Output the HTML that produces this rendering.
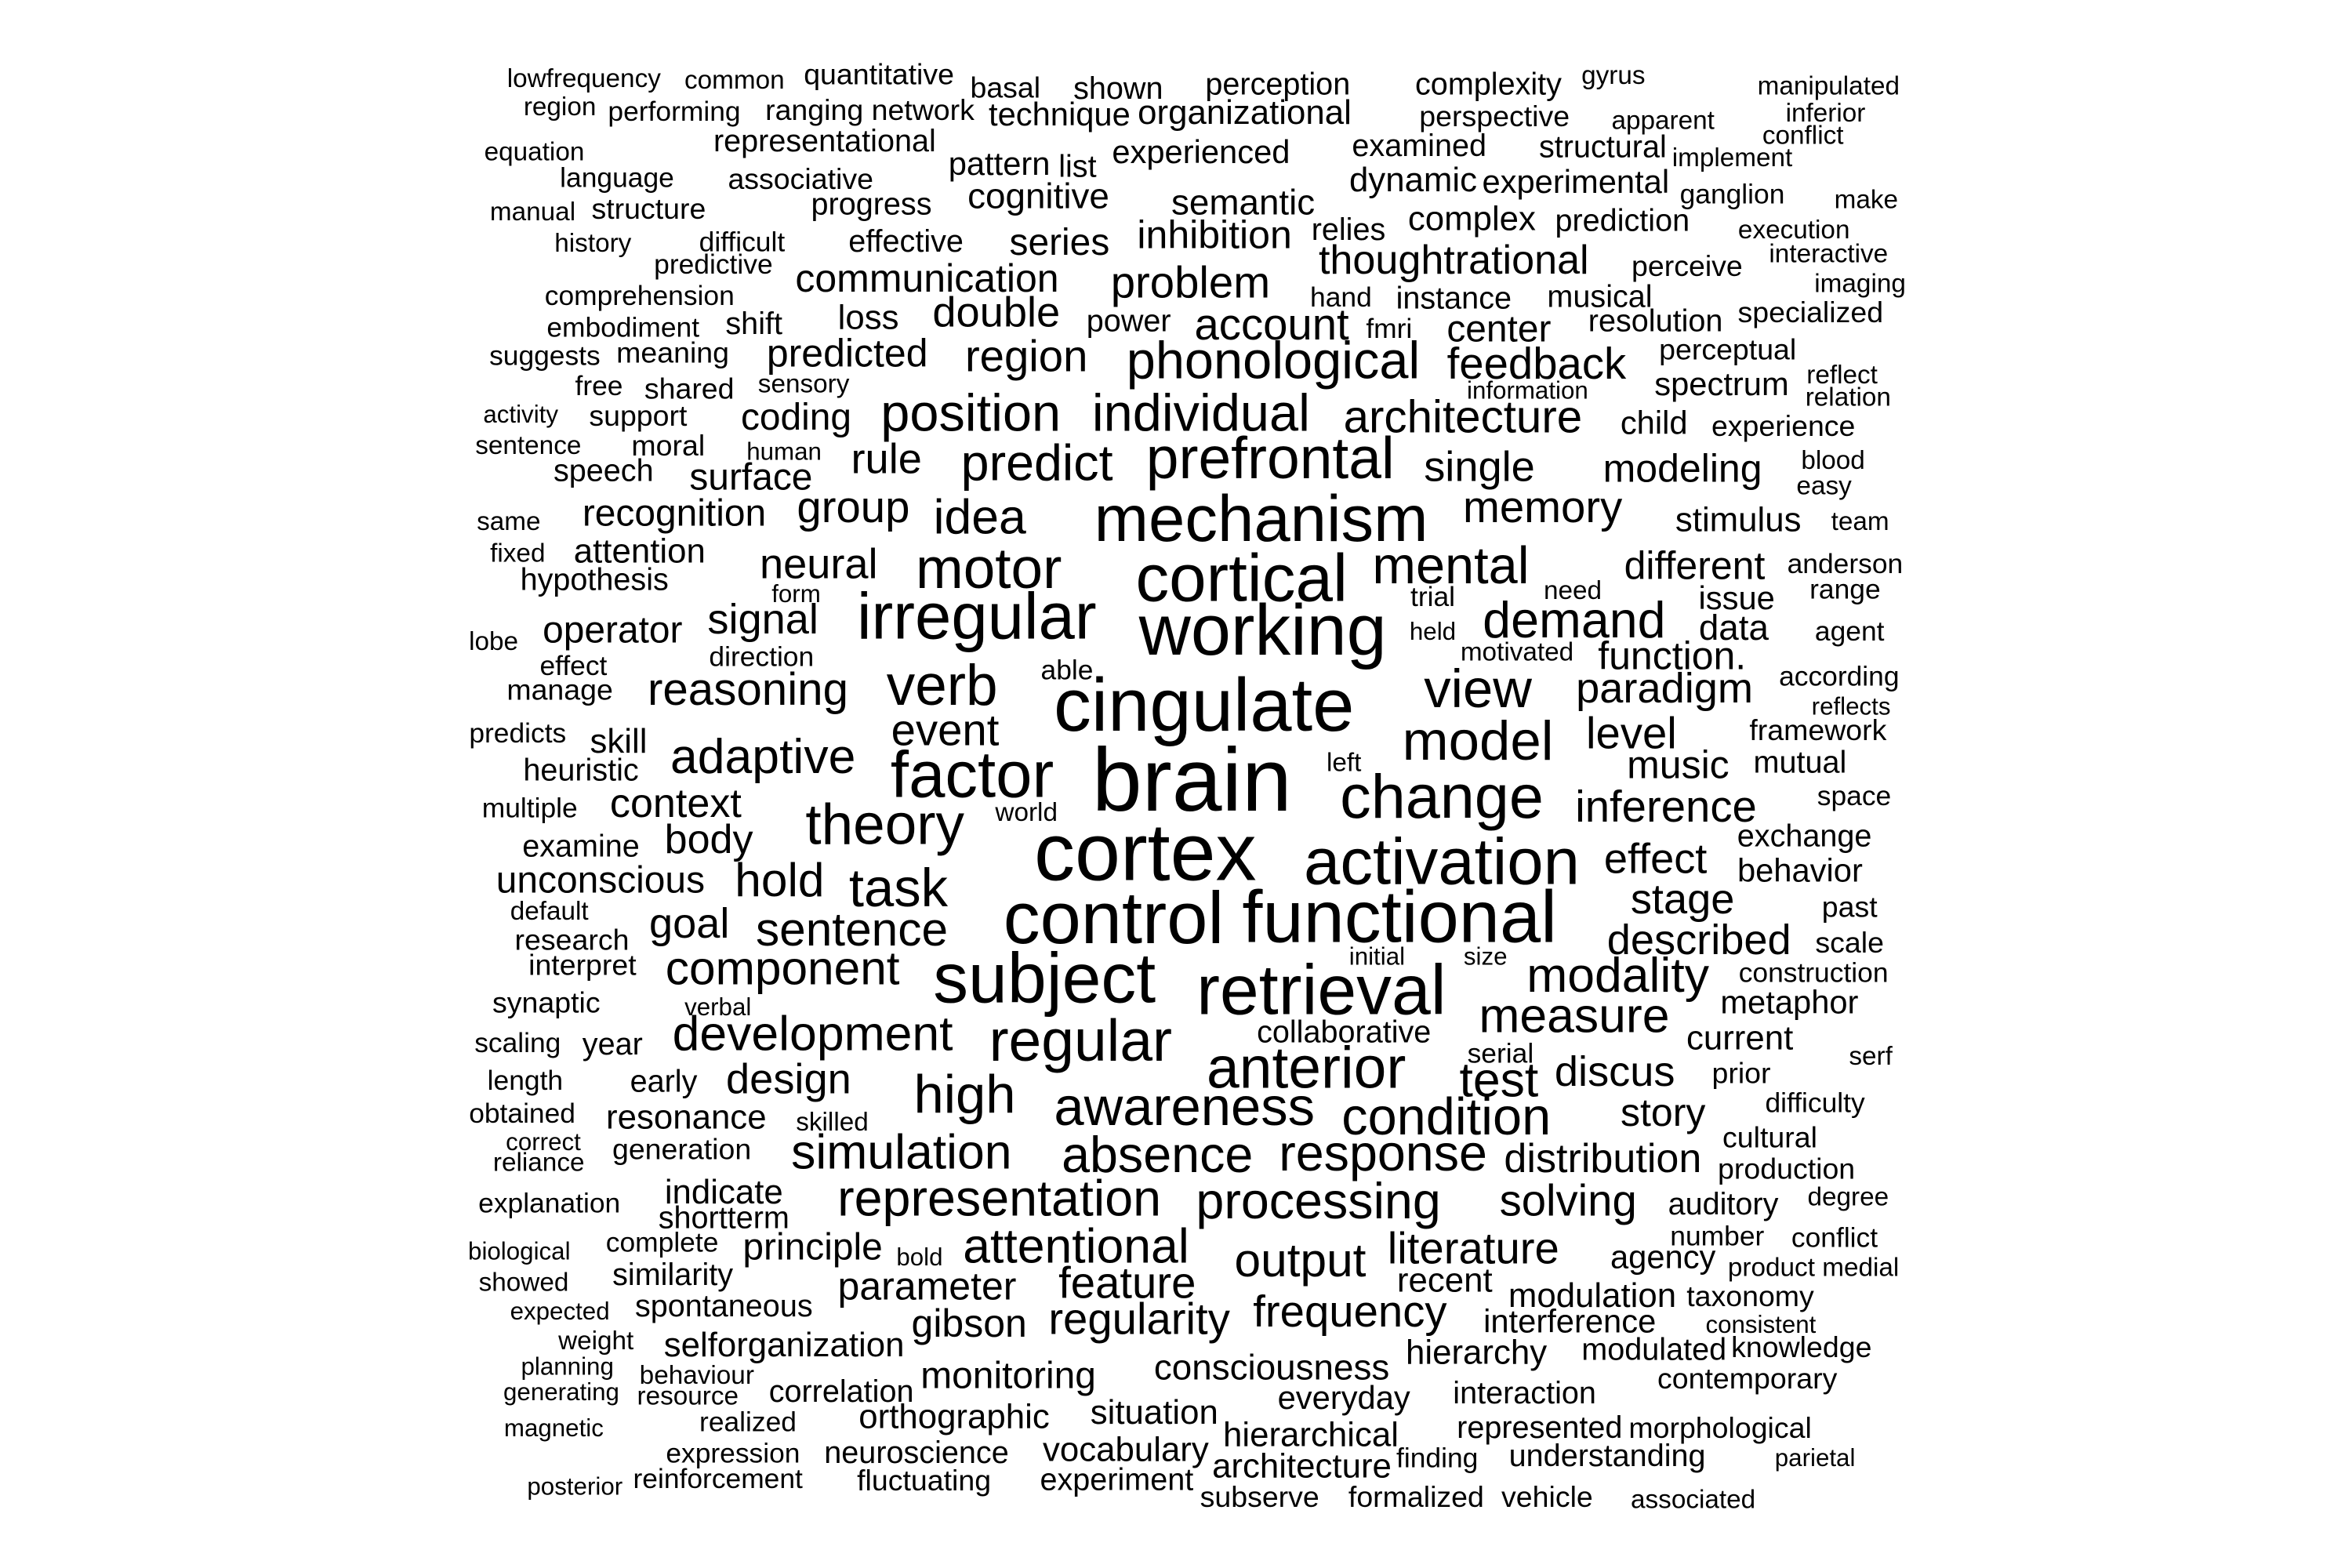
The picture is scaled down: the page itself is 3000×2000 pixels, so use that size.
<!DOCTYPE html>
<html><head><meta charset="utf-8">
<style>html,body{margin:0;padding:0;background:#fff}svg{display:block}text{font-family:"Liberation Sans",Arial,sans-serif;fill:#000}</style>
</head><body>
<svg id="cloud" width="3000" height="2000" viewBox="0 0 3000 2000" xmlns="http://www.w3.org/2000/svg">
<rect width="3000" height="2000" fill="#fff"/>
</svg>
<script>
// words, relative frequency (font size), and layout positions (layout only)
const words = ["lowfrequency","common","quantitative","basal","shown","perception","complexity","gyrus","manipulated","region","performing","ranging network","technique","organizational","perspective","apparent","inferior","conflict","equation","representational","pattern","list","experienced","examined","structural","implement","language","associative","dynamic","experimental","manual","structure","progress","cognitive","semantic","ganglion","make","history","difficult","effective","series","inhibition","relies","complex","prediction","execution","predictive","thoughtrational","perceive","interactive","comprehension","communication","problem","hand","instance","musical","imaging","embodiment","shift","loss","double","power","account","fmri","center","resolution","specialized","suggests","meaning","predicted","region","phonological","feedback","perceptual","reflect","information","spectrum","relation","free","shared","sensory","activity","support","coding","position","individual","architecture","child","experience","sentence","moral","human","rule","predict","prefrontal","single","modeling","blood","speech","surface","easy","same","recognition","group","idea","mechanism","memory","stimulus","team","fixed","attention","neural","motor","cortical","mental","different","anderson","hypothesis","form","trial","need","issue","range","lobe","operator","signal","irregular","working","held","motivated","demand","data","agent","effect","direction","function.","manage","reasoning","verb","able","cingulate","view","paradigm","according","reflects","predicts","skill","event","level","framework","heuristic","adaptive","model","left","music","mutual","factor","brain","multiple","context","world","change","inference","space","theory","examine","body","exchange","cortex","activation","effect","behavior","unconscious","hold","task","stage","default","past","goal","research","sentence","control","functional","described","scale","interpret","component","initial","size","construction","subject","retrieval","modality","synaptic","verbal","metaphor","measure","scaling","year","development","regular","collaborative","current","serial","serf","anterior","length","early","design","discus","prior","test","obtained","high","awareness","condition","difficulty","resonance","skilled","story","correct","reliance","generation","cultural","simulation","absence","response","distribution","production","explanation","indicate","shortterm","representation","processing","solving","auditory","degree","biological","complete","principle","bold","attentional","literature","number","conflict","agency","output","product medial","showed","similarity","parameter","feature","recent","modulation","taxonomy","expected","spontaneous","gibson","regularity","frequency","interference","consistent","weight","selforganization","hierarchy","modulated","knowledge","planning","behaviour","monitoring","consciousness","contemporary","generating","resource","correlation","everyday","interaction","situation","orthographic","magnetic","realized","hierarchical","represented","morphological","expression","neuroscience","vocabulary","architecture","finding","understanding","parietal","posterior","reinforcement","fluctuating","experiment","subserve","formalized","vehicle","associated"];
const freqs = [16,16,18,18,19,19,19,16,16,16,17,18,20,21,18,16,16,16,16,19,20,19,20,19,19,16,17,18,21,20,16,18,19,22,22,17,16,16,17,19,23,24,19,21,19,16,17,25,18,16,17,24,27,17,19,19,16,17,19,21,26,19,27,17,23,19,18,17,18,24,27,32,27,18,16,15,20,16,17,18,16,15,18,23,32,32,28,20,18,16,18,15,26,31,36,26,24,16,19,23,16,16,23,27,30,40,27,21,16,16,21,26,35,41,32,24,17,19,15,17,16,20,17,16,23,26,40,44,15,16,31,22,17,17,17,24,18,28,35,17,46,33,26,17,15,17,21,27,27,18,19,30,34,16,24,19,40,55,17,25,16,38,27,17,35,19,25,19,50,40,26,20,23,29,33,26,16,18,26,18,29,45,45,26,18,18,29,15,15,17,43,43,30,18,15,20,30,17,19,30,36,19,21,17,16,36,17,19,26,26,18,30,17,33,33,32,17,21,16,24,15,16,18,18,30,31,31,25,18,17,21,19,31,31,27,19,16,15,17,23,15,30,27,17,17,20,29,16,16,19,24,27,21,21,18,15,19,24,27,27,20,15,16,21,21,19,18,15,16,23,22,18,15,16,19,20,19,21,21,15,17,21,19,18,17,19,21,21,17,19,15,15,17,18,19,18,18,18,16];
const posX = [388,488,584,668,743,849,989,1072,1215,372,448,578,704,827,993,1105,1213,1198,355,548,664,716,798,943,1065,1151,410,532,939,1047,354,431,579,690,826,1151,1240,394,493,602,704,807,896,978,1078,1192,474,966,1121,1215,425,616,791,891,966,1063,1236,414,501,577,662,750,845,923,996,1100,1203,362,447,563,682,846,1021,1148,1224,1015,1144,1228,398,458,534,346,424,529,645,798,972,1099,1185,351,444,521,589,689,844,983,1118,1218,401,499,1212,338,448,567,651,838,1025,1155,1236,344,425,544,657,825,964,1126,1226,395,529,952,1045,1154,1226,328,407,507,649,839,952,1008,1046,1152,1229,381,506,1111,372,497,626,709,800,982,1106,1222,1230,344,411,628,1084,1208,386,507,982,893,1115,1196,646,792,352,449,682,958,1107,1232,588,386,471,1199,761,958,1100,1196,399,518,597,1118,365,1229,458,380,566,740,930,1129,1229,387,520,915,987,1205,694,878,1075,363,477,1189,1046,344,407,540,718,893,1156,997,1243,868,349,441,524,1073,1157,996,347,641,787,961,1206,456,553,1105,361,358,453,1176,599,769,919,1065,1187,365,481,481,664,876,1042,1145,1228,345,440,540,611,715,979,1141,1219,1105,864,1205,348,447,616,749,960,1058,1163,372,481,644,757,897,1043,1170,396,521,981,1099,1197,377,463,670,845,1161,373,457,559,893,1013,767,634,368,497,871,1023,1143,487,609,748,865,955,1068,1206,382,477,614,742,837,941,1028,1125];
const posY = [51,52,48,57,58,55,55,49,56,70,73,72,75,74,76,79,74,89,100,93,108,110,100,96,97,104,117,118,119,120,140,138,135,130,134,128,132,161,160,160,161,156,152,145,146,152,175,173,176,168,196,185,188,197,198,197,188,217,215,211,208,213,216,218,219,213,207,236,234,235,237,241,242,232,249,259,255,264,256,258,255,275,276,278,276,276,278,281,283,296,296,300,306,309,306,311,312,306,313,318,323,347,342,338,345,347,338,346,347,368,367,376,380,387,378,377,375,386,395,397,393,398,392,427,420,413,412,422,420,434,414,418,420,443,437,437,459,460,458,446,472,460,459,450,470,488,494,487,489,486,513,505,495,508,510,508,518,523,538,536,541,532,538,530,551,564,560,557,571,576,573,580,587,587,593,600,607,604,616,626,620,614,613,627,628,643,646,637,637,648,654,662,651,668,671,668,678,695,696,690,695,688,692,702,704,713,720,721,720,715,715,721,742,731,739,746,735,745,748,742,761,775,766,758,769,771,770,773,779,802,795,812,800,802,801,803,798,834,828,832,838,832,833,824,825,838,841,845,855,850,858,856,854,864,864,874,871,883,880,875,881,883,894,897,902,900,898,911,917,918,912,919,928,931,928,932,929,942,945,952,948,957,952,952,969,969,967,978,972,971,972,991,986,987,987,998,998,998,1000];
const SCALE = 3000/1555, X_SCALE = SCALE * 0.995, Y_SCALE = SCALE * 0.99, Y_OFF = 3, FONT_K = 1.08, Y_SHIFT = 0.09;
const svg = document.getElementById('cloud');
const NS = 'http://www.w3.org/2000/svg';
for (let i = 0; i < words.length; i++) {
  const t = document.createElementNS(NS, 'text');
  t.setAttribute('x', (posX[i] * X_SCALE).toFixed(1));
  t.setAttribute('y', ((posY[i] - Y_SHIFT * freqs[i] + Y_OFF) * Y_SCALE).toFixed(1));
  t.setAttribute('text-anchor', 'middle');
  t.setAttribute('dominant-baseline', 'central');
  t.setAttribute('font-size', (freqs[i] * FONT_K * SCALE).toFixed(1));
  t.textContent = words[i];
  
  
  svg.appendChild(t);
}
</script>
</body></html>
